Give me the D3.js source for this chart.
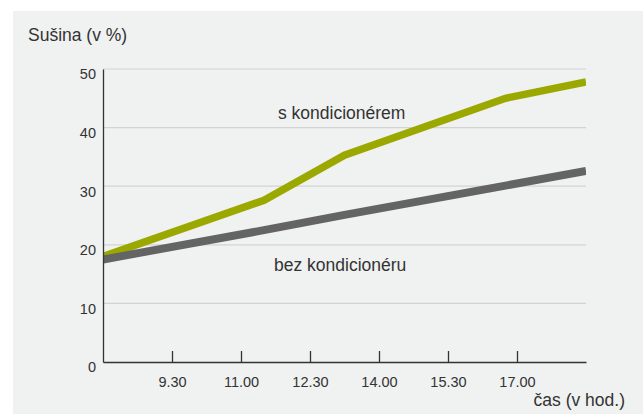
<!DOCTYPE html>
<html>
<head>
<meta charset="utf-8">
<script src="https://cdn.jsdelivr.net/npm/d3@7"></script>
<style>
  html, body { margin: 0; padding: 0; background: #ffffff; }
  svg { display: block; }
  text { font-family: "Liberation Sans", Arial, Helvetica, sans-serif; fill: #333333; }
</style>
</head>
<body>
<svg id="chart" width="643" height="414"></svg>
<script>
// Data
const hours = [8, 11.5, 13.25, 16.75, 18.5];
const withAC = [18.0, 27.6, 35.3, 45.0, 47.8];       // s kondicionérem
const withoutAC = [17.5, 22.5, 25.1, 30.1, 32.6];    // bez kondicionéru
const xTickValues = [9.5, 11, 12.5, 14, 15.5, 17];
const xTickLabels = ["9.30", "11.00", "12.30", "14.00", "15.30", "17.00"];
const yTickValues = [0, 10, 20, 30, 40, 50];
const seriesNames = ["s kondicionérem", "bez kondicionéru"];
const yTitle = "Sušina (v %)";
const xTitle = "čas (v hod.)";

(function () {
const svg = d3.select("#chart");
const W = 643, H = 414;
const mLeft = 103, mRight = 586, mTop = 69, mBottom = 362;

// background panel
svg.append("rect").attr("x", 13).attr("y", 11).attr("width", W - 13).attr("height", H - 11).attr("fill", "#f0f1f1");

const x = d3.scaleLinear().domain([8, 18.5]).range([mLeft, mRight]);
const y = d3.scaleLinear().domain([0, 50]).range([mBottom, mTop]);

// gridlines
svg.append("g").selectAll("line").data(yTickValues.filter(d => d > 0)).join("line")
  .attr("x1", mLeft).attr("x2", mRight)
  .attr("y1", d => y(d)).attr("y2", d => y(d))
  .attr("stroke", "#d3d3d3").attr("stroke-width", 1.2);

// clip
svg.append("clipPath").attr("id", "plotclip").append("rect")
  .attr("x", mLeft).attr("y", 0).attr("width", mRight - mLeft).attr("height", H);

const line = d3.line().x(d => x(d[0])).y(d => y(d[1]));

const g = svg.append("g").attr("clip-path", "url(#plotclip)");
g.append("path").datum(hours.map((h, i) => [h, withAC[i]]))
  .attr("d", line).attr("fill", "none").attr("stroke", "#9ba800")
  .attr("stroke-width", 7.5).attr("stroke-linejoin", "miter");
g.append("path").datum(hours.map((h, i) => [h, withoutAC[i]]))
  .attr("d", line).attr("fill", "none").attr("stroke", "#646464")
  .attr("stroke-width", 8).attr("stroke-linejoin", "miter");

// y axis
const yAxis = d3.axisLeft(y).tickValues(yTickValues).tickSize(0).tickPadding(7);
const ya = svg.append("g").attr("transform", `translate(${mLeft},0)`).call(yAxis);
ya.select(".domain").attr("stroke", "#333333").attr("stroke-width", 1.3);
ya.selectAll("text").attr("font-size", "14.5px").attr("dy", "0.68em")
  .style("font-family", '"Liberation Sans", Arial, sans-serif').attr("fill", "#333333");

// x axis
const xAxis = d3.axisBottom(x).tickValues(xTickValues)
  .tickFormat((d, i) => xTickLabels[i]).tickSizeInner(-11).tickSizeOuter(0).tickPadding(25);
const xa = svg.append("g").attr("transform", `translate(0,${mBottom})`).call(xAxis);
xa.select(".domain").attr("stroke", "#333333").attr("stroke-width", 1.3);
xa.selectAll(".tick line").attr("stroke", "#333333").attr("stroke-width", 1.3);
xa.selectAll("text").attr("font-size", "14.5px").attr("dy", "0")
  .style("font-family", '"Liberation Sans", Arial, sans-serif').attr("fill", "#333333");
xa.selectAll("text").attr("y", 25);

// titles
svg.append("text").attr("x", 28).attr("y", 40.5).attr("font-size", "17.5px").text(yTitle);
svg.append("text").attr("x", 625).attr("y", 406).attr("text-anchor", "end").attr("font-size", "17.5px").text(xTitle);

// series labels
svg.append("text").attr("x", 278).attr("y", 119).attr("font-size", "17.5px").text(seriesNames[0]);
svg.append("text").attr("x", 274).attr("y", 271).attr("font-size", "17.5px").text(seriesNames[1]);
})();
</script>
</body>
</html>
